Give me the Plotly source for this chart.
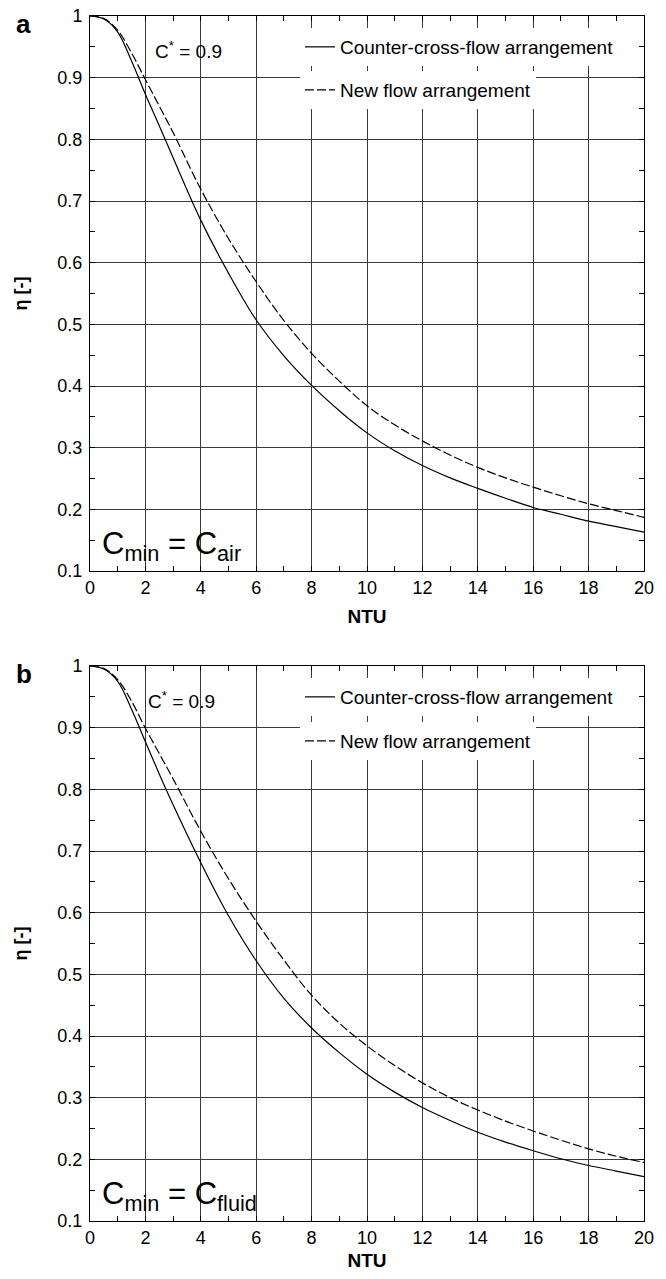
import plotly.graph_objects as go

# ---------------- data ----------------
ntu = [0, 0.5, 1, 1.5, 2, 2.5, 3, 4, 5, 6, 7, 8, 9, 10, 11, 12, 13, 14, 15, 16, 17, 18, 19, 20]

# panel a : C_min = C_air
eta_a_counter = [1.0, 0.995, 0.974, 0.927, 0.873, 0.822, 0.770, 0.669, 0.583, 0.507, 0.449, 0.401,
                 0.360, 0.324, 0.295, 0.271, 0.251, 0.234, 0.218, 0.203, 0.192, 0.181, 0.172, 0.163]
eta_a_new = [1.0, 0.996, 0.977, 0.940, 0.897, 0.854, 0.811, 0.719, 0.639, 0.569, 0.506, 0.453,
             0.408, 0.368, 0.337, 0.311, 0.288, 0.268, 0.251, 0.236, 0.222, 0.209, 0.198, 0.187]

# panel b : C_min = C_fluid
eta_b_counter = [1.0, 0.995, 0.975, 0.930, 0.877, 0.825, 0.775, 0.681, 0.595, 0.522, 0.461, 0.413,
                 0.373, 0.338, 0.309, 0.284, 0.263, 0.244, 0.228, 0.214, 0.201, 0.190, 0.181, 0.172]
eta_b_new = [1.0, 0.996, 0.978, 0.943, 0.899, 0.858, 0.817, 0.732, 0.655, 0.586, 0.523, 0.466,
             0.421, 0.384, 0.352, 0.324, 0.300, 0.280, 0.262, 0.246, 0.231, 0.217, 0.205, 0.195]

series_names = ["Counter-cross-flow arrangement", "New flow arrangement"]
panel_letters = ["a", "b"]
panel_notes = ["C<sub>min</sub> = C<sub>air</sub>", "C<sub>min</sub> = C<sub>fluid</sub>"]
cstar_text = "C<sup>*</sup> = 0.9"
x_title = "NTU"
y_title = "η [-]"

# ---------------- figure ----------------
OFF = 8                      # page body margin
W, H = 666 - 2 * OFF, 1279 - 2 * OFF
FONT = "Liberation Sans, Arial, sans-serif"
# plot-area edges in page pixels
LEFT, RIGHT = 90, 644
A_TOP, A_BOT = 16, 571
B_TOP, B_BOT = 666, 1221
ML = LEFT - OFF
MR = W - (RIGHT - OFF)
MT = A_TOP - OFF
MB = H - (B_BOT - OFF)
PW = W - ML - MR
PH = H - MT - MB

def px_x(xpx):
    return (xpx - OFF - ML) / PW

def px_y(ypx):
    return (H - MB - (ypx - OFF)) / PH

fig = go.Figure()

panels = [(eta_a_counter, eta_a_new), (eta_b_counter, eta_b_new)]
legend_ids = [("legend", "legend2"), ("legend3", "legend4")]
for i, (c, n) in enumerate(panels):
    xa = "x" if i == 0 else "x2"
    ya = "y" if i == 0 else "y2"
    fig.add_trace(go.Scatter(x=ntu, y=c, mode="lines", name=series_names[0],
                             line=dict(color="black", width=1.2, shape="spline", smoothing=1.0),
                             xaxis=xa, yaxis=ya, legend=legend_ids[i][0], showlegend=True))
    fig.add_trace(go.Scatter(x=ntu, y=n, mode="lines", name=series_names[1],
                             line=dict(color="black", width=1.2, dash="9px,3px", shape="spline", smoothing=1.0),
                             xaxis=xa, yaxis=ya, legend=legend_ids[i][1], showlegend=True))

dom_a = [px_y(A_BOT), px_y(A_TOP)]
dom_b = [px_y(B_BOT), px_y(B_TOP)]

def xaxis_cfg(anchor):
    return dict(range=[0, 20], dtick=2, tick0=0, anchor=anchor,
                showgrid=True, gridcolor="#3a3a3a", gridwidth=1,
                showline=True, linecolor="black", linewidth=1, mirror="ticks",
                ticks="inside", ticklen=5, tickcolor="black",
                minor=dict(dtick=1, ticks="inside", ticklen=5, tickcolor="black", showgrid=False),
                tickfont=dict(family=FONT, size=18, color="black"),
                ticklabelstandoff=0, ticklabeloverflow="allow",
                zeroline=False,
                title=dict(text="<b>" + x_title + "</b>", font=dict(family=FONT, size=19, color="black"), standoff=13))

def yaxis_cfg(anchor, domain):
    return dict(range=[0.1, 1.0], dtick=0.1, tick0=0.1, anchor=anchor, domain=domain,
                showgrid=True, gridcolor="#3a3a3a", gridwidth=1,
                showline=True, linecolor="black", linewidth=1, mirror="ticks",
                ticks="inside", ticklen=5, tickcolor="black",
                minor=dict(dtick=0.05, ticks="inside", ticklen=5, tickcolor="black", showgrid=False),
                tickfont=dict(family=FONT, size=18, color="black"),
                ticklabelstandoff=3, ticklabeloverflow="allow",
                zeroline=False,
                title=dict(text="<b>" + y_title + "</b>", font=dict(family=FONT, size=18, color="black"), standoff=25))

fig.update_layout(
    width=W, height=H,
    margin=dict(l=ML, r=MR, t=MT, b=MB, autoexpand=False),
    paper_bgcolor="white", plot_bgcolor="white",
    font=dict(family=FONT, color="black"),
    showlegend=True,
    xaxis=xaxis_cfg("y"),
    yaxis=yaxis_cfg("x", dom_a),
    xaxis2=xaxis_cfg("y2"),
    yaxis2=yaxis_cfg("x2", dom_b),
)

# legends: one box per entry, so gridlines show between the two entries
leg_rows = [(47, 90), (697, 741)]
legs = {}
for i in range(2):
    for j in range(2):
        legs[legend_ids[i][j]] = dict(
            xref="paper", yref="paper", x=px_x(300), y=px_y(leg_rows[i][j]),
            xanchor="left", yanchor="middle", visible=True,
            bgcolor="white", borderwidth=0,
            font=dict(family=FONT, size=19, color="black"), itemwidth=30)
fig.update_layout(**legs)

# annotations
for i in range(2):
    panel_top = A_TOP if i == 0 else B_TOP
    xd = "x domain" if i == 0 else "x2 domain"
    yd = "y domain" if i == 0 else "y2 domain"
    fig.add_annotation(text="<b>" + panel_letters[i] + "</b>", xref="paper", yref="paper",
                       x=px_x(15), y=px_y(panel_top - 8),
                       xanchor="left", yanchor="top", showarrow=False, borderpad=0,
                       font=dict(family=FONT, size=26, color="black"))
    fig.add_annotation(text=cstar_text, xref=xd, yref=yd,
                       x=(153 - LEFT) / (RIGHT - LEFT) if i == 0 else (146 - LEFT) / (RIGHT - LEFT),
                       y=1 - 34 / 555, xanchor="left", yanchor="middle", showarrow=False,
                       font=dict(family=FONT, size=19, color="black"))
    fig.add_annotation(text=panel_notes[i], xref=xd, yref=yd,
                       x=(100 - LEFT) / (RIGHT - LEFT), y=25 / 555, xanchor="left", yanchor="middle",
                       showarrow=False, font=dict(family=FONT, size=31, color="black"))

fig.write_html("out.html")
